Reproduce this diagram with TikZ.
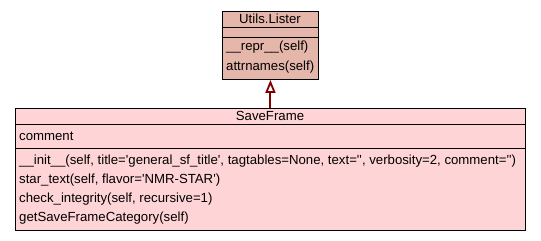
\documentclass[tikz,border=0pt]{standalone}
\usepackage{fontspec}
\setmainfont{Liberation Sans}[Ligatures=TeXOff]
\usetikzlibrary{arrows.meta}
\definecolor{listerfill}{RGB}{229,183,170}
\definecolor{framefill}{RGB}{255,212,214}
\definecolor{inherit}{RGB}{128,0,0}
\begin{document}
\begin{tikzpicture}[x=1pt,y=-1pt,
  classbox/.style={draw=black,line width=0.9pt,inner sep=0pt,anchor=north west},
  member/.style={anchor=west,inner sep=0pt,font=\fontsize{13.2}{15}\selectfont},
  heading/.style={anchor=center,inner sep=0pt,font=\fontsize{13.2}{15}\selectfont},
  sep/.style={line width=0.9pt}]
\useasboundingbox[fill=white] (0,0) rectangle (541,241);

% Utils.Lister
\node[classbox,fill=listerfill,minimum width=96pt,minimum height=68pt] (lister) at (222,11) {};
\draw[sep] (222,27) -- (318,27);
\draw[sep] (222,37) -- (318,37);
\node[heading] (listername) at (270,19) {Utils.Lister};
\node[member] (repr) at (226,47) {\_\_repr\_\_(self)};
\node[member] (attrnames) at (226,67) {attrnames(self)};

% SaveFrame
\node[classbox,fill=framefill,minimum width=510pt,minimum height=122pt] (frame) at (15,108) {};
\draw[sep] (15,124) -- (525,124);
\draw[sep] (15,148) -- (525,148);
\node[heading] (framename) at (270,116) {SaveFrame};
\node[member] (comment) at (19,136) {comment};
\node[member] (init) at (19,161) {\_\_init\_\_(self, title='general\_sf\_title', tagtables=None, text='{}', verbosity=2, comment='{}')};
\node[member] (startext) at (19,180) {star\_text(self, flavor='NMR-STAR')};
\node[member] (check) at (19,199) {check\_integrity(self, recursive=1)};
\node[member] (category) at (19,218) {getSaveFrameCategory(self)};

% inheritance
\draw[draw=inherit,line width=2pt,-{Triangle[width=10pt,length=13pt,fill=white,line width=1.8pt]}] (frame.north) -- (lister.south);
\end{tikzpicture}
\end{document}
